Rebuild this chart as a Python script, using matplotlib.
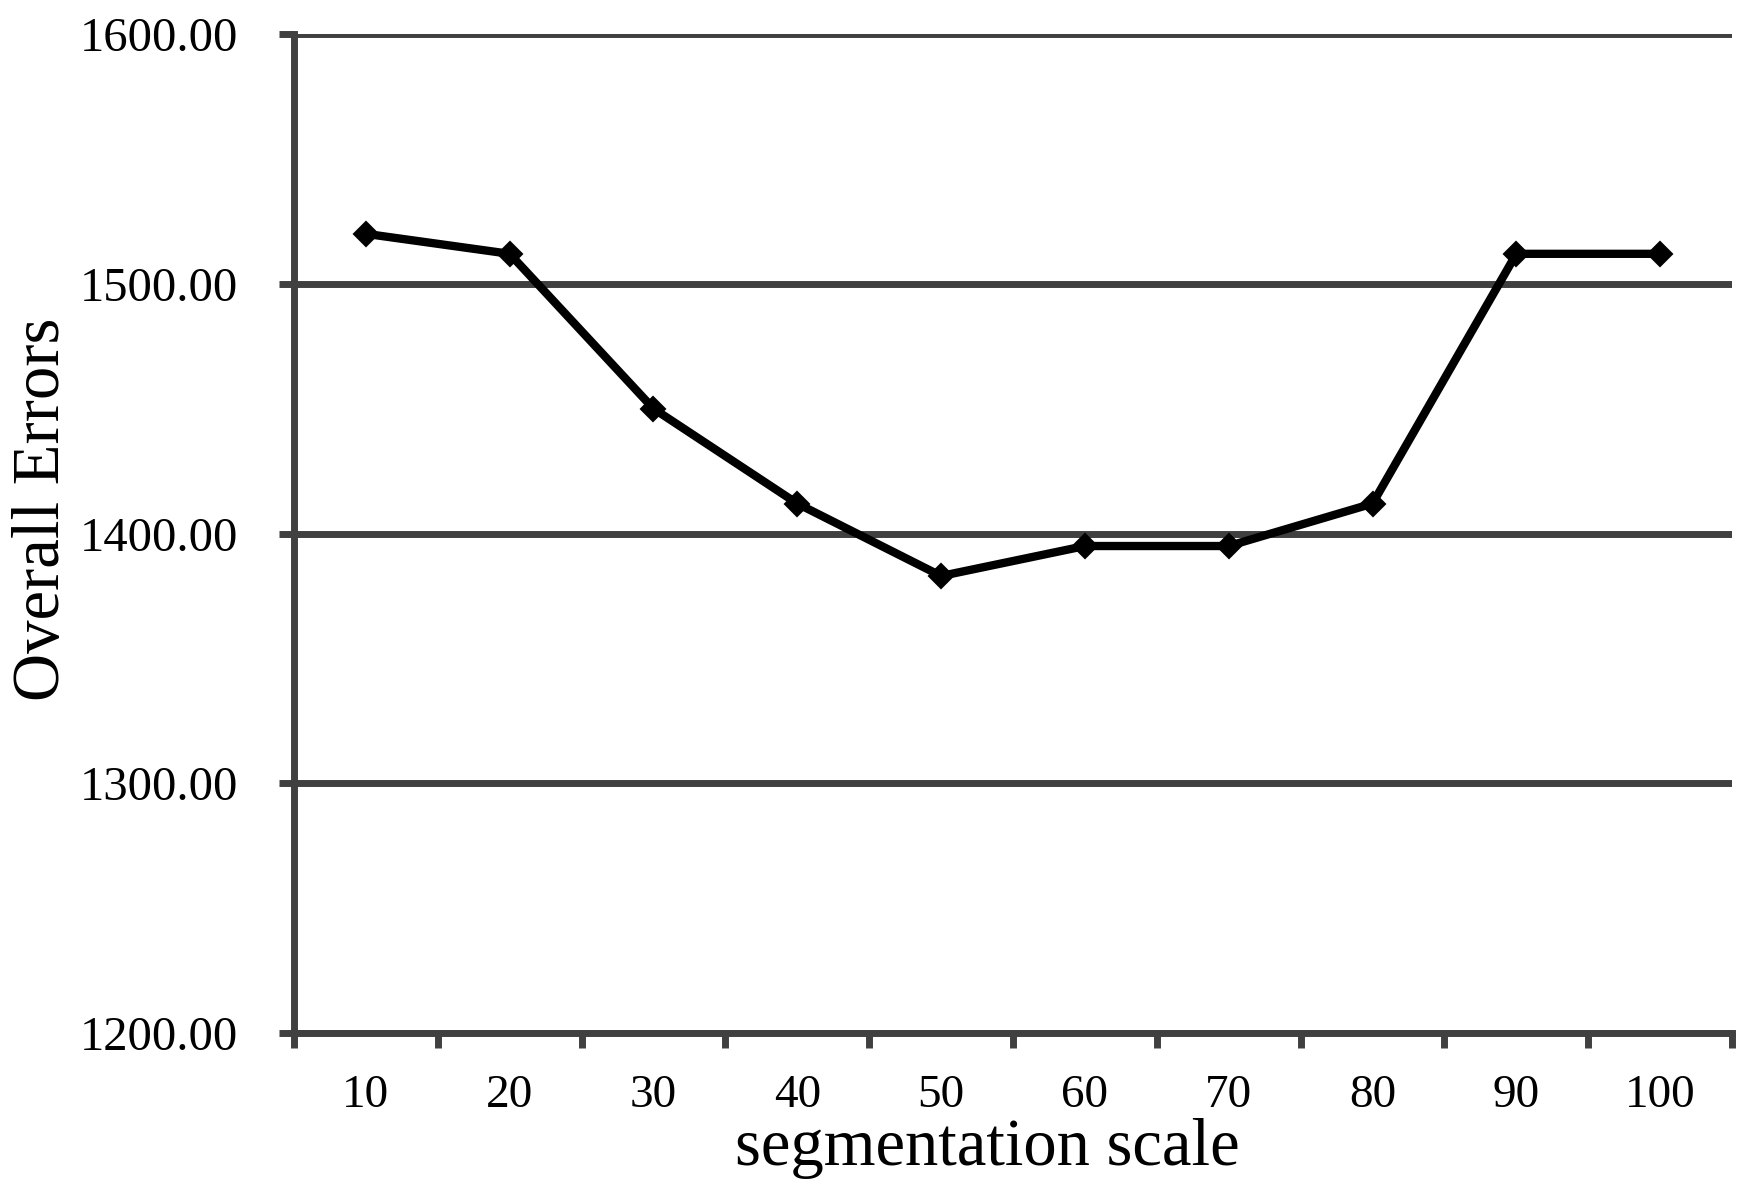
import numpy as np
from matplotlib import pyplot as plt
from matplotlib.ticker import FixedLocator

scales = [10, 20, 30, 40, 50, 60, 70, 80, 90, 100]
errors = [1520, 1512, 1450, 1412, 1383, 1395, 1395, 1412, 1512, 1512]
yticks = [1200, 1300, 1400, 1500, 1600]

plt.rcParams['font.family'] = ['Liberation Serif', 'DejaVu Serif']
grey = '#404040'

fig = plt.figure(figsize=(17.54, 11.90), dpi=100)
ax = fig.add_axes([0.1676, 0.1319, 0.9875 - 0.1676, 0.9714 - 0.1319])

pos = np.arange(len(scales))
ax.plot(pos, errors, color='black', lw=6, marker='D', ms=12,
        mec='black', mew=1.5, zorder=5, clip_on=False)

ax.set_xlim(-0.5, len(scales) - 0.5)
ax.set_ylim(1200, 1600)

ax.set_yticks(yticks)
ax.set_yticklabels(['%.2f' % v for v in yticks])
ax.yaxis.grid(True, color=grey, lw=5)
ax.set_axisbelow(True)

# ticks sit on category boundaries, labels at centres
ax.xaxis.set_major_locator(FixedLocator(np.arange(len(scales) + 1) - 0.5))
ax.xaxis.set_minor_locator(FixedLocator(pos))
ax.set_xticklabels([])
ax.set_xticklabels([str(s) for s in scales], minor=True)

ax.tick_params(axis='x', which='major', length=11, width=5, color=grey,
               direction='out')
ax.tick_params(axis='x', which='minor', length=0, pad=30, labelsize=34)
ax.tick_params(axis='y', length=11, width=5, color=grey, direction='out',
               pad=29, labelsize=35)

for s in ['top', 'right']:
    ax.spines[s].set_visible(False)
for s in ['left', 'bottom']:
    ax.spines[s].set_color(grey)
    ax.spines[s].set_linewidth(5)

ax.set_xlabel('segmentation scale', fontsize=48, labelpad=2)
ax.xaxis.set_label_coords(0.482, -0.085)
ax.set_ylabel('Overall Errors', fontsize=48)
ax.yaxis.set_label_coords(-0.154, 0.524)

fig.savefig('out.png', dpi=100)
